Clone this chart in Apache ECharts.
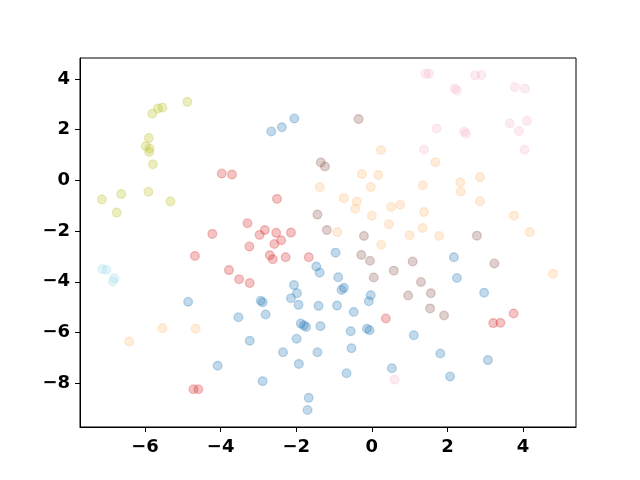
<!DOCTYPE html>
<html>
<head>
<meta charset="utf-8">
<script src="https://cdn.jsdelivr.net/npm/echarts@6/dist/echarts.min.js"></script>
<style>
  html, body { margin: 0; padding: 0; background: #fff; }
  #chart { width: 640px; height: 480px; }
</style>
</head>
<body>
<div id="chart"></div>
<script>
// points per cluster, [x, y]
const bluePts = [
  [-2.05, 2.44], [-2.38, 2.10], [-2.66, 1.93], [-4.86, -4.79], [-0.96, -2.85],
  [-1.47, -3.40], [-1.38, -3.64], [-0.89, -3.82], [-0.80, -4.32], [-0.74, -4.24],
  [-2.06, -4.13], [-1.98, -4.45], [-2.14, -4.65], [-1.94, -4.91], [-2.94, -4.75],
  [-2.89, -4.81], [-1.41, -4.95], [-0.92, -4.94], [-0.03, -4.53], [-0.08, -4.77],
  [-0.48, -5.19], [2.17, -3.03], [2.25, -3.85], [2.97, -4.43], [-3.53, -5.40],
  [-3.23, -6.33], [-4.08, -7.31], [-2.81, -5.29], [-1.88, -5.65], [-1.80, -5.72],
  [-1.74, -5.78], [-1.36, -5.75], [-0.56, -5.95], [-0.13, -5.85], [-0.06, -5.91],
  [-1.99, -6.25], [-2.35, -6.78], [-1.44, -6.78], [-0.54, -6.62], [-1.93, -7.24],
  [-0.67, -7.61], [0.53, -7.41], [-2.89, -7.92], [-1.67, -8.58], [-1.70, -9.06],
  [1.11, -6.11], [1.81, -6.83], [2.07, -7.74], [3.07, -7.09]
]
const orangePts = [
  [0.24, 1.20], [-0.26, 0.25], [0.17, 0.21], [-1.38, -0.26], [-0.03, -0.26],
  [1.68, 0.72], [1.35, -0.19], [2.34, -0.07], [2.86, 0.13], [-0.74, -0.70],
  [-0.40, -0.84], [-0.44, -1.12], [0.00, -1.39], [0.51, -1.05], [0.75, -0.96],
  [0.45, -1.73], [-0.91, -2.04], [0.25, -2.54], [1.00, -2.16], [2.35, -0.44],
  [2.86, -0.82], [1.38, -1.25], [3.76, -1.39], [1.34, -1.88], [1.78, -2.19],
  [4.18, -2.04], [4.79, -3.68], [-5.54, -5.83], [-4.66, -5.85], [-6.42, -6.36]
]
const redPts = [
  [-3.97, 0.27], [-3.70, 0.23], [-3.29, -1.69], [-4.22, -2.11], [-3.24, -2.61],
  [-4.68, -2.98], [-3.78, -3.54], [-3.51, -3.90], [-3.23, -4.05], [-2.51, -0.73],
  [-2.83, -1.96], [-2.97, -2.15], [-2.53, -2.07], [-2.14, -2.06], [-2.40, -2.36],
  [-2.58, -2.51], [-2.70, -2.95], [-2.62, -3.11], [-2.28, -3.03], [-1.67, -3.03],
  [-4.72, -8.24], [-4.59, -8.24], [0.37, -5.45], [3.75, -5.25], [3.21, -5.63],
  [3.40, -5.62]
]
const brownPts = [
  [-0.35, 2.42], [-1.35, 0.71], [-1.24, 0.55], [-1.44, -1.35], [-1.19, -1.96],
  [-0.21, -2.19], [-0.28, -2.94], [-0.05, -3.17], [0.58, -3.56], [0.05, -3.83],
  [0.96, -4.54], [1.08, -3.20], [2.78, -2.18], [3.24, -3.28], [1.30, -4.01],
  [1.56, -4.45], [1.54, -5.05], [1.91, -5.33]
]
const pinkPts = [
  [1.42, 4.21], [1.51, 4.21], [2.73, 4.14], [2.90, 4.16], [2.19, 3.63],
  [2.25, 3.55], [3.78, 3.68], [4.05, 3.62], [1.71, 2.05], [2.44, 1.93],
  [2.49, 1.84], [3.65, 2.25], [4.10, 2.35], [3.89, 1.95], [1.38, 1.22],
  [4.04, 1.21], [0.60, -7.86]
]
const olivePts = [
  [-4.88, 3.10], [-5.54, 2.87], [-5.66, 2.84], [-5.81, 2.63], [-5.90, 1.67],
  [-5.98, 1.35], [-5.88, 1.26], [-5.89, 1.12], [-5.79, 0.64], [-7.14, -0.75],
  [-6.63, -0.54], [-5.91, -0.45], [-5.33, -0.83], [-6.75, -1.27]
]
const cyanPts = [
  [-7.13, -3.50], [-7.02, -3.53], [-6.81, -3.86], [-6.85, -3.99]
]
const xTicks = [-6, -4, -2, 0, 2, 4]
const yTicks = [-8, -6, -4, -2, 0, 2, 4]

const alpha = 0.35
const groups = [
  { data: bluePts, rgb: '31,119,180' },
  { data: orangePts, rgb: '255,187,120' },
  { data: redPts, rgb: '214,39,40' },
  { data: brownPts, rgb: '140,86,75' },
  { data: pinkPts, rgb: '247,182,210' },
  { data: olivePts, rgb: '188,189,34' },
  { data: cyanPts, rgb: '158,218,229' }
]

const labelStyle = {
  color: '#000',
  fontFamily: 'DejaVu Sans',
  fontWeight: 'bold',
  fontSize: 18,
  formatter: v => String(v).replace('-', '\u2212')
}

const option = {
  animation: false,
  grid: {
    left: 80, right: 64, top: 58, bottom: 53,
    show: true, borderColor: '#000', borderWidth: 1
  },
  xAxis: {
    type: 'value',
    min: -7.72,
    max: 5.40,
    splitLine: { show: false },
    axisLine: { show: true, onZero: false, lineStyle: { color: '#000', width: 1 } },
    axisTick: { show: true, length: 5, customValues: xTicks, lineStyle: { color: '#000' } },
    axisLabel: Object.assign({ margin: 11, customValues: xTicks }, labelStyle)
  },
  yAxis: {
    type: 'value',
    min: -9.73,
    max: 4.83,
    splitLine: { show: false },
    axisLine: { show: true, onZero: false, lineStyle: { color: '#000', width: 1 } },
    axisTick: { show: true, length: 5, customValues: yTicks, lineStyle: { color: '#000' } },
    axisLabel: Object.assign({ margin: 10, customValues: yTicks }, labelStyle)
  },
  series: groups.map(g => ({
    type: 'scatter',
    data: g.data,
    symbolSize: 8.7,
    itemStyle: {
      color: 'rgba(' + g.rgb + ',' + alpha + ')',
      borderColor: 'rgba(' + g.rgb + ',' + alpha + ')',
      borderWidth: 1.3
    },
    emphasis: { disabled: true }
  }))
}

const chart = echarts.init(document.getElementById('chart'), null, { renderer: 'canvas' })
chart.setOption(option)
</script>
</body>
</html>
